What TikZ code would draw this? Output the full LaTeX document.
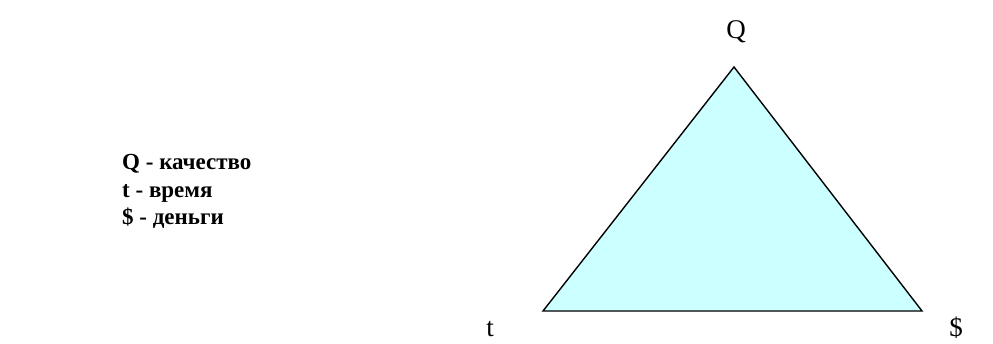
\documentclass[tikz,border=0pt]{standalone}
\usepackage{fontspec}
\setmainfont{Liberation Serif}
\definecolor{tri}{HTML}{CCFFFF}
\begin{document}
\begin{tikzpicture}[x=1pt,y=-1pt,
  legend/.style={anchor=base west,inner sep=0pt,font=\fontsize{23}{27}\selectfont\bfseries},
  vlabel/.style={anchor=base,inner sep=0pt,font=\fontsize{27}{32}\selectfont}]
\useasboundingbox (0,0) rectangle (993,343);
\coordinate (A) at (734,67);
\coordinate (B) at (543,311);
\coordinate (C) at (922,311);
\filldraw[fill=tri,draw=black,line width=1.4pt,line join=miter] (A) -- (B) -- (C) -- cycle;
\node[vlabel] (q) at (736,38) {Q};
\node[vlabel] (t) at (490,336) {t};
\node[vlabel] (d) at (956,336) {\$};
\node[legend] (l1) at (122,169) {Q - качество};
\node[legend] (l2) at (122,197) {t - время};
\node[legend] (l3) at (122,224) {\$ - деньги};
\end{tikzpicture}
\end{document}
